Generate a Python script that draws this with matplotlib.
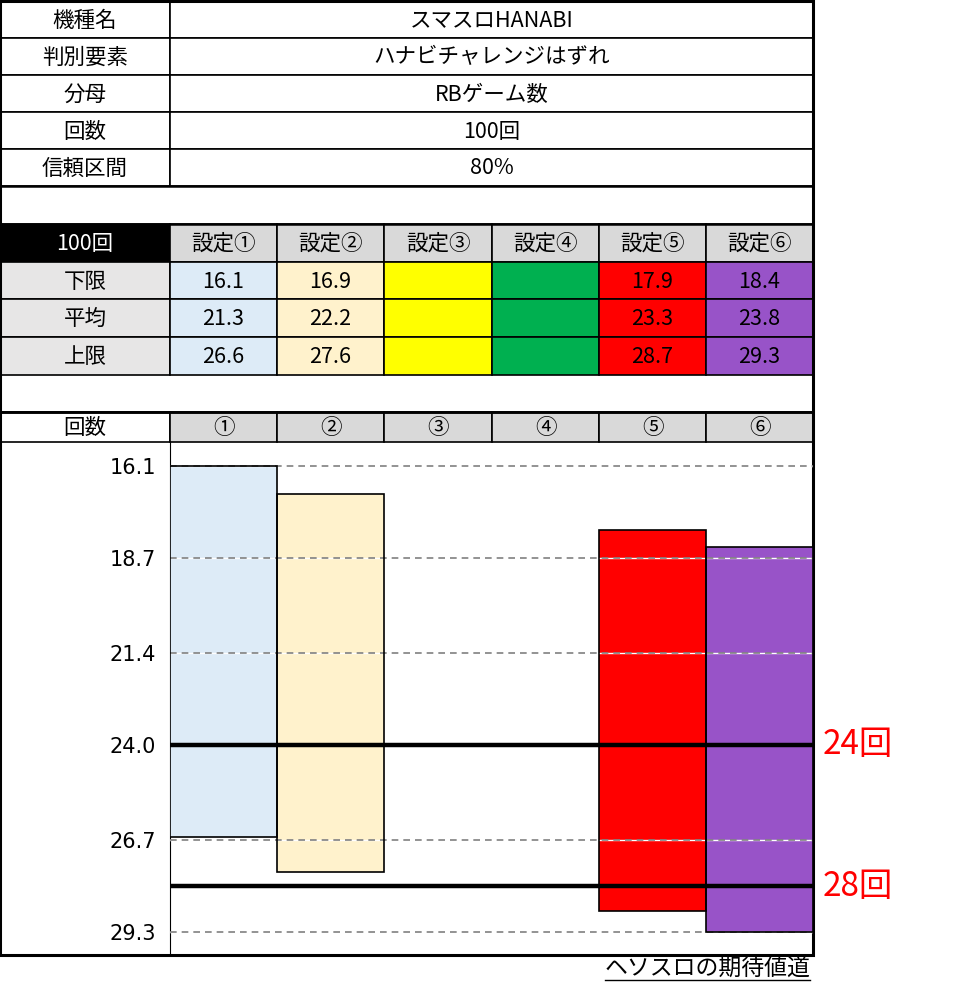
import numpy as np
import matplotlib
matplotlib.use('Agg')
import matplotlib.pyplot as plt
from matplotlib.patches import Rectangle

plt.rcParams['font.family'] = ['Noto Sans CJK JP', 'DejaVu Sans']

# info table
info_labels = ['機種名', '判別要素', '分母', '回数', '信頼区間']
info_values = ['スマスロHANABI', 'ハナビチャレンジはずれ', 'RBゲーム数', '100回', '80%']

# settings table
count_label = '100回'
settings = ['設定①', '設定②', '設定③', '設定④', '設定⑤', '設定⑥']
short_names = ['①', '②', '③', '④', '⑤', '⑥']
row_names = ['下限', '平均', '上限']
lower = [16.1, 16.9, np.nan, np.nan, 17.9, 18.4]
mean = [21.3, 22.2, np.nan, np.nan, 23.3, 23.8]
upper = [26.6, 27.6, np.nan, np.nan, 28.7, 29.3]
colors = ['#DDEBF7', '#FFF2CC', '#FFFF00', '#00B050', '#FF0000', '#9853C8']

# chart axis
yticks = [16.1, 18.7, 21.4, 24.0, 26.7, 29.3]
ref_lines = [24, 28]
ref_labels = ['24回', '28回']
footer = 'ヘソスロの期待値道'

W, H = 955, 992
fig = plt.figure(figsize=(W / 100, H / 100), dpi=100)

# background axes in pixel coords for the table part
bg = fig.add_axes([0, 0, 1, 1])
bg.set_xlim(0, W)
bg.set_ylim(H, 0)
bg.axis('off')

col_x = [0, 170, 277, 384, 492, 599, 706, 813]
info_y = [1, 38, 75, 112, 149, 186]
set_y = [224, 262, 299, 337, 375]
head_y = [412, 442]
bottom = 955
fs = 15.5


def cell(x0, x1, y0, y1, face='white', text='', color='black', size=fs, lw=1.2):
    bg.add_patch(Rectangle((x0, y0), x1 - x0, y1 - y0, facecolor=face,
                           edgecolor='black', lw=lw, zorder=1))
    if text:
        bg.text((x0 + x1) / 2, (y0 + y1) / 2 + 1, text, ha='center', va='center',
                fontsize=size, color=color, zorder=3)


# info rows
for i in range(len(info_labels)):
    cell(col_x[0], col_x[1], info_y[i], info_y[i + 1], text=info_labels[i])
    cell(col_x[1], col_x[-1], info_y[i], info_y[i + 1], text=info_values[i])

# settings header
cell(col_x[0], col_x[1], set_y[0], set_y[1], face='black', text=count_label, color='white')
for j, s in enumerate(settings):
    cell(col_x[j + 1], col_x[j + 2], set_y[0], set_y[1], face='#D9D9D9', text=s)

# settings rows
rows = [lower, mean, upper]
for i, name in enumerate(row_names):
    cell(col_x[0], col_x[1], set_y[i + 1], set_y[i + 2], face='#E7E6E6', text=name)
    for j in range(len(settings)):
        v = rows[i][j]
        txt = '' if np.isnan(v) else '%.1f' % v
        cell(col_x[j + 1], col_x[j + 2], set_y[i + 1], set_y[i + 2], face=colors[j], text=txt)

# chart header
cell(col_x[0], col_x[1], head_y[0], head_y[1], text='回数')
for j, s in enumerate(short_names):
    cell(col_x[j + 1], col_x[j + 2], head_y[0], head_y[1], face='#D9D9D9', text=s)

# thicker separators and outer border
for y in [info_y[-1], set_y[0], set_y[-1] + 37, head_y[0]]:
    bg.plot([0, col_x[-1]], [y, y], color='black', lw=1.8, zorder=4)
bg.plot([col_x[1], col_x[1]], [head_y[1], bottom], color='black', lw=0.8, zorder=4)
bg.add_patch(Rectangle((0, 1), col_x[-1], bottom - 1, fill=False, edgecolor='black', lw=2.2, zorder=5))

# footer
bg.text(810, 968, footer, ha='right', va='center', fontsize=16.5)
bg.plot([605, 810], [980, 980], color='black', lw=1)

# chart axes
px_per = 35.3
ytop = yticks[0] - (466 - head_y[1]) / px_per
ybot = yticks[-1] + (bottom - 932) / px_per
ax = fig.add_axes([col_x[1] / W, 1 - bottom / H, (col_x[-1] - col_x[1]) / W, (bottom - head_y[1]) / H])
ax.patch.set_alpha(0)
x = np.arange(len(settings))
lo = np.array(lower)
hi = np.array(upper)
ax.bar(x, hi - lo, bottom=lo, width=1.0, color=colors, edgecolor='none', zorder=1)
for t in yticks:
    ax.axhline(t, color='white', lw=1, zorder=2)
    ax.axhline(t, color='#808080', lw=1.2, ls=(0, (4, 3)), zorder=2.1)
ax.bar(x, hi - lo, bottom=lo, width=1.0, fill=False, edgecolor='black', lw=1.2, zorder=3)
for r, lab in zip(ref_lines, ref_labels):
    ax.axhline(r, color='black', lw=3.2, zorder=4)
    ax.text(1.015, r, lab, transform=ax.get_yaxis_transform(), ha='left', va='center',
            fontsize=24, color='#FF0000', clip_on=False)
ax.set_xlim(-0.5, len(settings) - 0.5)
ax.set_ylim(ybot, ytop)
ax.set_yticks(yticks)
ax.set_yticklabels(['%.1f' % t for t in yticks], fontsize=15, family='DejaVu Sans')
ax.tick_params(axis='y', length=0, pad=10)
ax.set_xticks([])
for s in ax.spines.values():
    s.set_visible(False)

plt.savefig('out.png', dpi=100)
